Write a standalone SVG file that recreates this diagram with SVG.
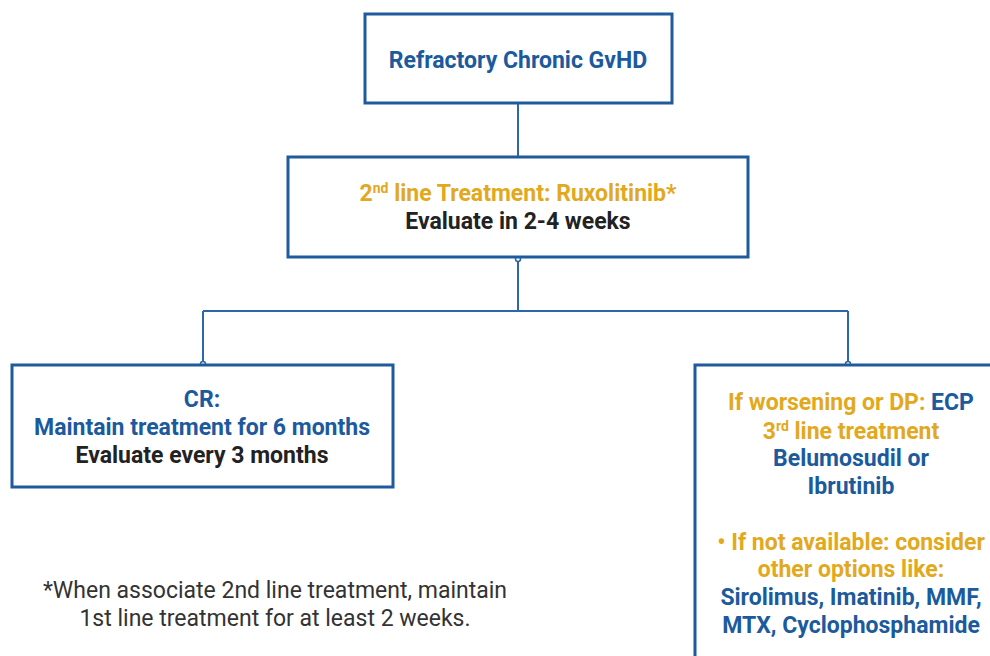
<svg xmlns="http://www.w3.org/2000/svg" width="990" height="656" viewBox="0 0 990 656">
<style>
.box{fill:#fff;stroke:#1f5b9c;stroke-width:3}
.con{fill:none;stroke:#2c67a8;stroke-width:2}
.dot{fill:#fff;stroke:#2c67a8;stroke-width:1.5}
text{font-family:Roboto,"Liberation Sans",sans-serif;font-weight:bold;font-size:23px;text-anchor:middle}
.b{fill:#1b5a9c}
.g{fill:#e2a81e}
.k{fill:#222}
.fn{font-weight:normal;fill:#333;font-size:23px}
</style>
<rect width="990" height="656" fill="#fff"/>
<g id="connectors">
<path class="con" d="M518 103V157"/>
<path class="con" d="M518 258V311M203 311H848M203 311V365M848 311V365"/>
<circle class="dot" cx="518" cy="259" r="2.5"/>
<circle class="dot" cx="203" cy="364" r="2.5"/>
<circle class="dot" cx="848" cy="364" r="2.5"/>
</g>
<g id="n1">
<rect class="box" x="365" y="14" width="307" height="89"/>
<text x="518" y="68" class="b">Refractory Chronic GvHD</text>
</g>
<g id="n2">
<rect class="box" x="288" y="157" width="460" height="100"/>
<text x="518" y="201" class="g">2<tspan font-size="14" dy="-8">nd</tspan><tspan dy="8"> line Treatment: Ruxolitinib*</tspan></text>
<text x="518" y="229" class="k">Evaluate in 2-4 weeks</text>
</g>
<g id="n3">
<rect class="box" x="12" y="365" width="381" height="122"/>
<text x="202" y="407" class="b">CR:</text>
<text x="202" y="435" class="b">Maintain treatment for 6 months</text>
<text x="202" y="463" class="k">Evaluate every 3 months</text>
</g>
<g id="n4">
<rect class="box" x="695" y="365" width="310" height="310"/>
<text x="851" y="410"><tspan class="g">If worsening or DP: </tspan><tspan class="b">ECP</tspan></text>
<text x="851" y="439" class="g">3<tspan font-size="14" dy="-8">rd</tspan><tspan dy="8"> line treatment</tspan></text>
<text x="851" y="466" class="b">Belumosudil or</text>
<text x="851" y="494" class="b">Ibrutinib</text>
<text x="851" y="550" class="g">• If not available: consider</text>
<text x="851" y="577" class="g">other options like:</text>
<text x="851" y="605" class="b">Sirolimus, Imatinib, MMF,</text>
<text x="851" y="633" class="b">MTX, Cyclophosphamide</text>
</g>
<g id="footnote">
<text x="275" y="598" class="fn">*When associate 2nd line treatment, maintain</text>
<text x="275" y="626" class="fn">1st line treatment for at least 2 weeks.</text>
</g>
</svg>
